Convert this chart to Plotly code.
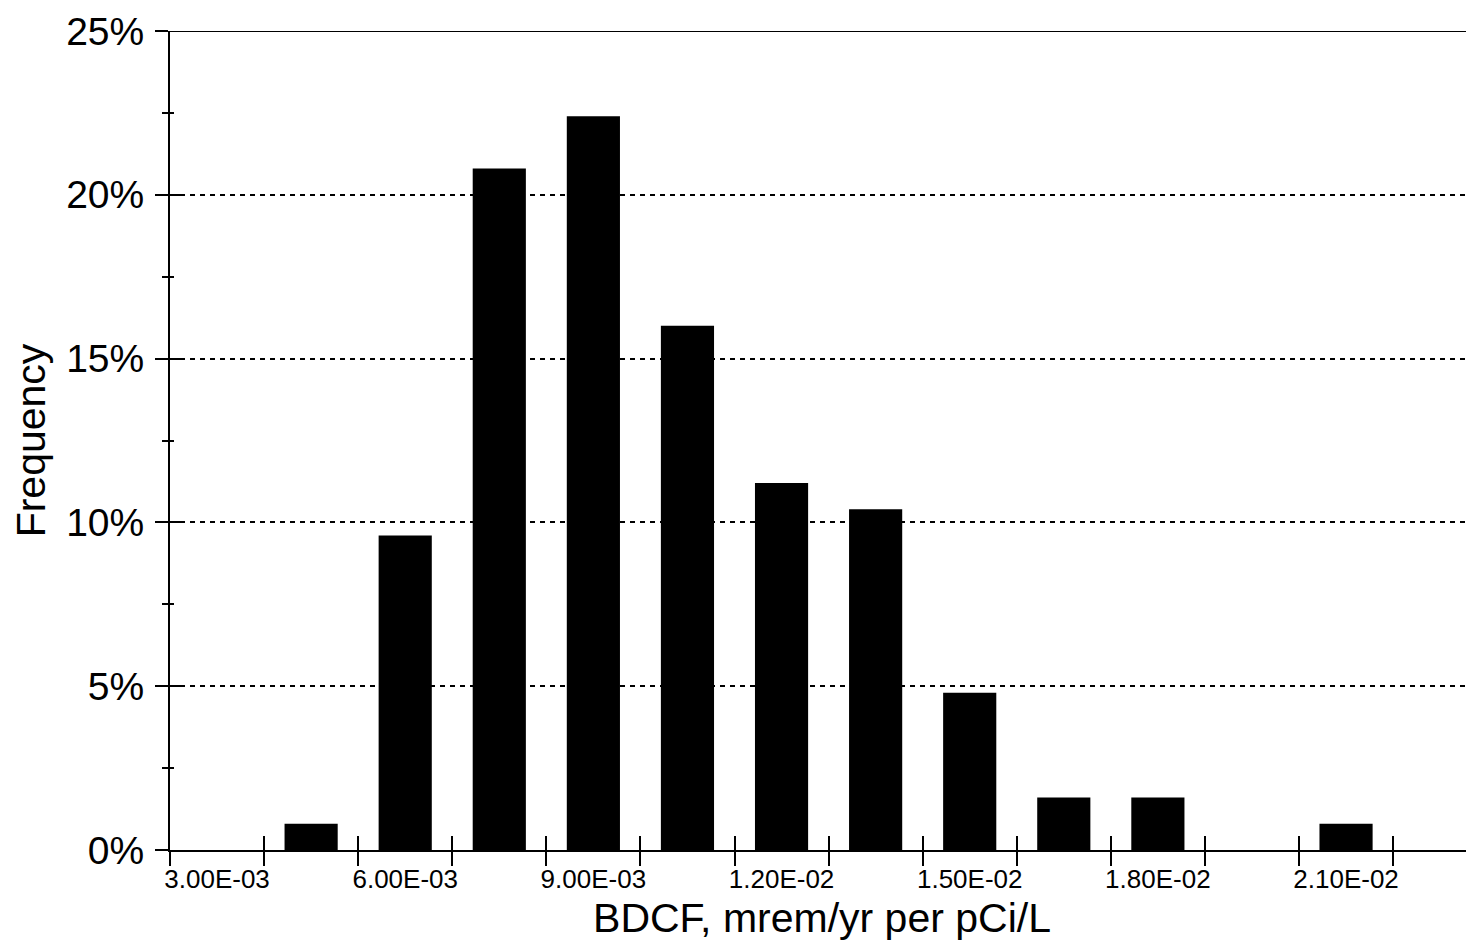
import plotly.graph_objects as go

# Histogram data (bin centers in mrem/yr per pCi/L, frequency in %)
bin_width = 1.5e-3
bin_centers = [3.0e-3, 4.5e-3, 6.0e-3, 7.5e-3, 9.0e-3, 1.05e-2, 1.2e-2, 1.35e-2,
               1.5e-2, 1.65e-2, 1.8e-2, 1.95e-2, 2.1e-2, 2.25e-2]
frequency = [0.0, 0.8, 9.6, 20.8, 22.4, 16.0, 11.2, 10.4, 4.8, 1.6, 1.6, 0.0, 0.8, 0.0]

tick_vals = [3.0e-3, 6.0e-3, 9.0e-3, 1.2e-2, 1.5e-2, 1.8e-2, 2.1e-2]
tick_text = ["3.00E-03", "6.00E-03", "9.00E-03", "1.20E-02", "1.50E-02", "1.80E-02", "2.10E-02"]
y_tick_vals = [0, 5, 10, 15, 20, 25]
y_tick_text = ["0%", "5%", "10%", "15%", "20%", "25%"]

x_min = bin_centers[0] - bin_width / 2
x_max = x_min + 13.86 * bin_width
edges = [c - bin_width / 2 for c in bin_centers] + [bin_centers[-1] + bin_width / 2]

FONT = "Arial, Liberation Sans, sans-serif"

fig = go.Figure()
fig.add_trace(go.Bar(x=bin_centers, y=frequency, width=bin_width * 0.565,
                     marker=dict(color="black", line=dict(width=0)), showlegend=False))
# empty traces to activate overlay axes (used for ticks crossing the axis lines)
fig.add_trace(go.Scatter(x=[], y=[], xaxis="x2", yaxis="y2", showlegend=False))
fig.add_trace(go.Scatter(x=[], y=[], xaxis="x3", yaxis="y2", showlegend=False))

common_x = dict(range=[x_min, x_max], showgrid=False, zeroline=False, fixedrange=True)

fig.update_layout(
    width=1466, height=933,
    margin=dict(l=162, r=0, t=23, b=91, autoexpand=False),
    paper_bgcolor="white", plot_bgcolor="white",
    font=dict(family=FONT, color="black"),
    xaxis=dict(**common_x, showline=True, linecolor="black", linewidth=2,
               tickmode="array", tickvals=tick_vals, ticktext=tick_text, ticks="",
               tickfont=dict(size=26, family=FONT), ticklabelstandoff=5,
               automargin=False,
               title=dict(text="BDCF, mrem/yr per pCi/L", font=dict(size=41, family=FONT),
                          standoff=10)),
    xaxis2=dict(**common_x, overlaying="x", anchor="y", side="bottom", showline=False,
                tickmode="array", tickvals=edges, ticks="outside", ticklen=15, tickwidth=2,
                tickcolor="black", showticklabels=False),
    xaxis3=dict(**common_x, overlaying="x", anchor="y", side="bottom", showline=False,
                tickmode="array", tickvals=edges, ticks="inside", ticklen=14, tickwidth=2,
                tickcolor="black", showticklabels=False),
    yaxis=dict(range=[0, 25], showline=True, linecolor="black", linewidth=2,
               tickmode="array", tickvals=y_tick_vals, ticktext=y_tick_text,
               ticks="outside", ticklen=13, tickwidth=2, tickcolor="black",
               tickfont=dict(size=39, family=FONT), ticklabelstandoff=3,
               showgrid=True, gridcolor="black", gridwidth=2, griddash="5px,5px",
               zeroline=False, fixedrange=True, automargin=False,
               minor=dict(dtick=2.5, tick0=0, ticks="outside", ticklen=6, tickwidth=2,
                          tickcolor="black", showgrid=False),
               title=dict(text="Frequency", font=dict(size=41, family=FONT), standoff=14)),
    yaxis2=dict(range=[0, 25], overlaying="y", anchor="x", side="left", showline=False,
                tickmode="array", tickvals=y_tick_vals, ticks="inside", ticklen=13,
                tickwidth=2, tickcolor="black", showticklabels=False, showgrid=False,
                zeroline=False, fixedrange=True,
                minor=dict(dtick=2.5, tick0=0, ticks="inside", ticklen=4, tickwidth=2,
                           tickcolor="black", showgrid=False)),
    bargap=0.44,
    shapes=[dict(type="line", xref="paper", yref="y", x0=0, x1=1, y0=25, y1=25,
                 line=dict(color="black", width=2))],
)

fig.write_html("out.html")
